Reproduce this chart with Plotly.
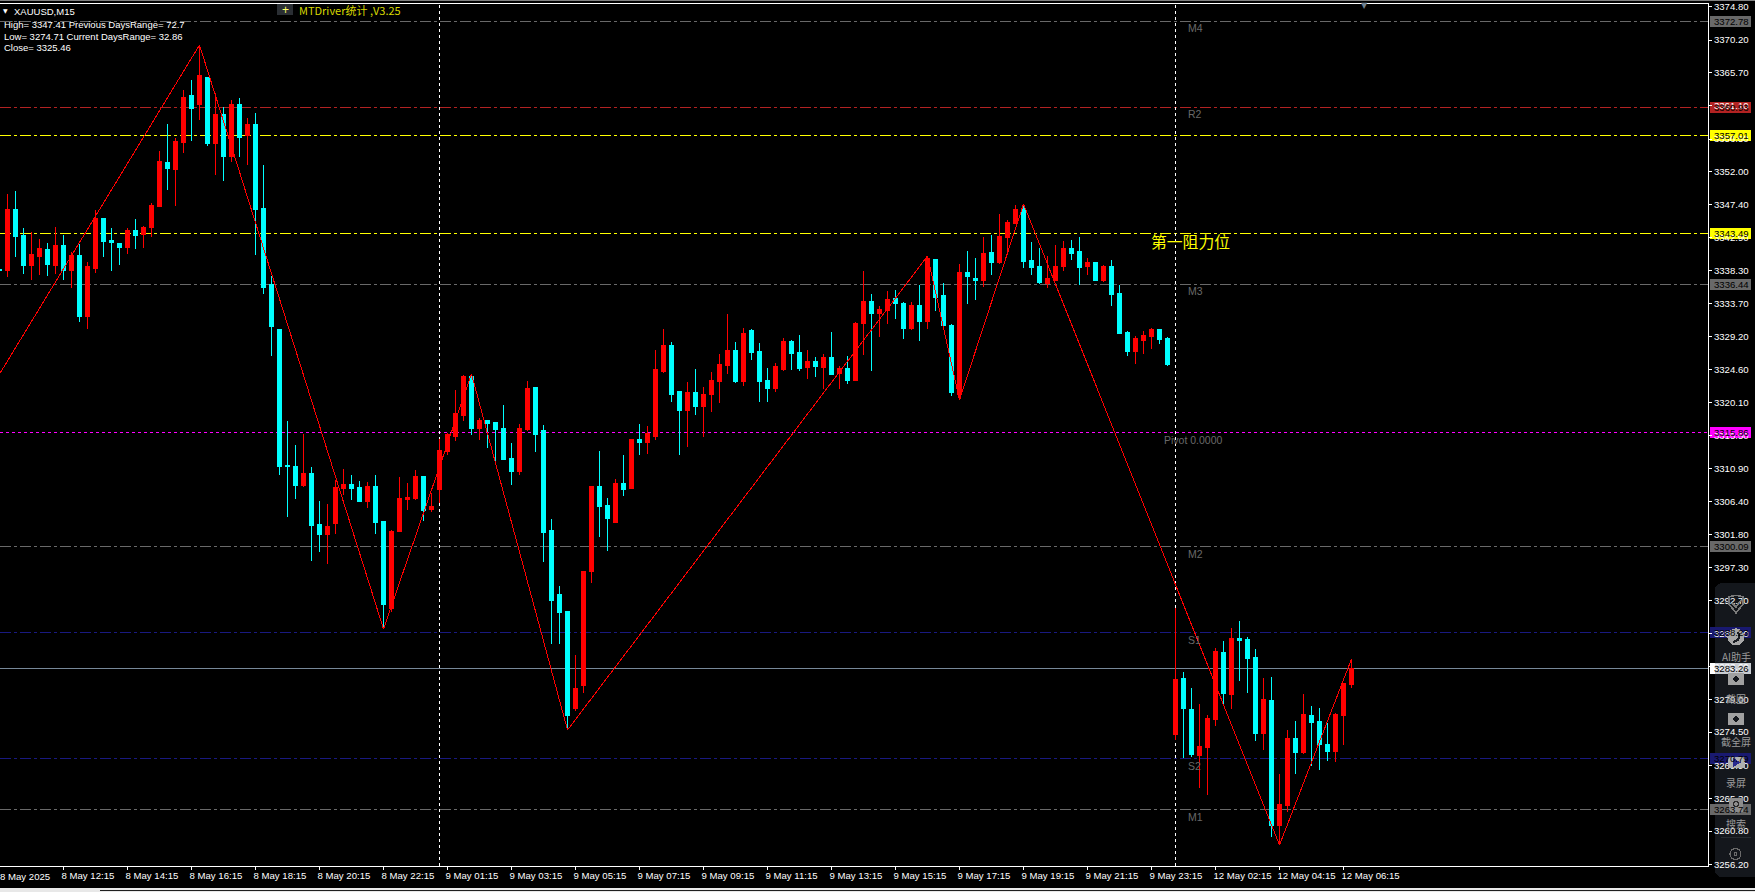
import plotly.graph_objects as go

# ---------- data ----------
opens = [3338.53,
 3338.30,3346.82,3343.23,3338.99,3340.23,3341.29,3339.08,3341.85,3338.39,3340.46,
 3331.93,3338.66,3345.58,3342.54,3342.12,3341.57,3343.92,3343.37,3344.34,3347.24,
 3353.32,3352.36,3356.09,3362.59,3361.35,3365.08,3355.95,3359.96,3354.15,3361.35,
 3357.06,3358.58,3346.96,3336.45,3330.23,3311.42,3311.28,3308.65,3310.31,3303.26,
 3301.88,3303.40,3308.24,3308.79,3308.38,3306.44,3308.52,3303.68,3291.65,3302.29,
 3306.72,3306.86,3309.90,3305.34,3307.97,3313.36,3315.30,3318.34,3323.73,3316.54,
 3317.65,3317.37,3316.54,3312.39,3310.59,3316.40,3322.21,3316.13,3302.30,3293.58,
 3291.23,3277.69,3280.91,3296.76,3308.52,3305.89,3303.54,3308.93,3308.11,3315.02,
 3314.47,3315.30,3324.42,3328.02,3321.66,3319.03,3321.52,3319.45,3321.11,3323.04,
 3325.25,3327.33,3323.04,3329.96,3327.19,3323.18,3321.94,3324.70,3328.57,3327.05,
 3324.97,3325.80,3324.97,3326.36,3324.14,3324.84,3323.18,3331.06,3334.10,3332.44,
 3332.86,3334.52,3333.83,3330.37,3333.55,3331.34,3339.91,3334.93,3330.78,3321.24,
 3338.11,3337.28,3337.01,3340.88,3339.50,3342.95,3344.89,3346.96,3339.77,3338.94,
 3336.59,3337.01,3338.94,3341.43,3341.02,3338.81,3339.50,3337.01,3338.81,3335.21,
 3329.82,3327.19,3328.71,3329.13,3330.10,3328.99,3274.22,3281.97,3277.68,3271.32,
 3272.42,3276.29,3285.56,3279.75,3287.50,3287.36,3284.87,3274.36,3278.92,3261.63,
 3264.40,3273.67,3271.73,3276.85,3276.02,3272.84,3271.87,3276.85,3281.14]
highs = [3338.53,
 3348.90,3349.31,3344.15,3343.60,3342.68,3342.08,3344.29,3343.23,3340.92,3341.99,
 3339.54,3346.69,3345.58,3344.15,3342.12,3344.15,3345.44,3344.47,3347.66,3354.85,
 3358.58,3356.65,3363.28,3364.67,3369.51,3365.08,3362.82,3360.98,3361.90,3362.18,
 3359.41,3360.10,3352.91,3337.56,3330.23,3317.51,3314.19,3315.71,3311.14,3306.44,
 3306.03,3309.35,3310.87,3310.04,3309.21,3309.07,3310.04,3303.68,3302.43,3309.76,
 3308.93,3310.73,3309.90,3307.51,3315.02,3315.80,3321.80,3323.87,3324.01,3317.92,
 3317.65,3317.37,3319.72,3314.47,3317.09,3323.04,3322.21,3316.96,3303.96,3294.69,
 3291.23,3285.16,3296.76,3308.52,3313.36,3306.86,3309.49,3312.81,3315.02,3317.09,
 3316.82,3327.33,3330.23,3328.44,3321.66,3322.90,3324.70,3322.21,3324.29,3326.77,
 3332.31,3328.44,3330.37,3330.23,3328.30,3324.84,3325.53,3328.99,3328.71,3329.40,
 3327.33,3326.36,3326.77,3329.82,3325.11,3326.50,3331.20,3338.25,3335.07,3333.41,
 3335.49,3335.62,3333.96,3333.96,3336.32,3340.33,3339.91,3336.59,3330.92,3339.22,
 3341.02,3340.05,3342.95,3343.23,3346.13,3345.30,3347.38,3347.52,3342.26,3341.43,
 3340.33,3341.85,3342.40,3342.54,3342.95,3340.05,3339.50,3339.09,3339.78,3336.32,
 3329.96,3329.27,3329.96,3330.37,3330.23,3329.13,3291.65,3282.80,3280.58,3278.37,
 3276.85,3286.11,3287.08,3288.88,3289.85,3287.64,3285.98,3281.97,3282.10,3268.69,
 3274.77,3276.02,3279.75,3278.09,3277.82,3275.74,3277.12,3281.27,3284.59]
lows = [3338.30,
 3337.47,3340.23,3337.84,3337.01,3337.70,3337.56,3337.84,3337.01,3335.95,3331.24,
 3330.23,3337.93,3340.23,3338.25,3339.08,3340.60,3341.29,3341.43,3342.95,3347.24,
 3349.45,3347.24,3354.57,3356.23,3359.13,3355.54,3351.53,3350.70,3353.32,3354.02,
 3352.91,3340.46,3335.07,3326.54,3310.04,3304.23,3306.72,3308.38,3298.14,3299.39,
 3297.73,3301.88,3307.27,3306.58,3306.44,3305.47,3301.88,3288.74,3291.10,3302.29,
 3305.20,3306.58,3303.68,3304.92,3306.22,3312.81,3314.74,3317.51,3315.57,3314.88,
 3313.77,3311.98,3312.25,3308.66,3310.04,3316.13,3313.22,3298.01,3286.67,3286.67,
 3274.78,3277.46,3279.95,3295.10,3301.47,3299.53,3303.54,3307.14,3308.11,3312.81,
 3312.95,3314.88,3324.15,3320.14,3312.81,3313.91,3318.34,3315.30,3318.75,3320.00,
 3324.01,3322.77,3322.35,3325.95,3320.14,3320.14,3321.52,3324.42,3324.56,3324.42,
 3323.32,3323.59,3321.93,3324.01,3321.93,3322.62,3323.18,3326.63,3324.42,3329.12,
 3330.92,3331.61,3328.85,3330.09,3328.57,3330.23,3332.72,3330.65,3320.97,3320.41,
 3333.69,3334.24,3336.04,3337.70,3339.22,3340.46,3344.89,3338.67,3337.70,3336.45,
 3335.90,3337.01,3338.25,3339.77,3336.32,3337.70,3337.01,3336.73,3333.42,3329.54,
 3326.50,3325.39,3326.78,3327.47,3328.16,3325.12,3273.39,3270.90,3271.04,3266.75,
 3265.78,3275.33,3278.23,3277.68,3281.55,3279.89,3273.25,3272.01,3259.98,3258.87,
 3263.43,3268.69,3271.45,3269.79,3269.24,3270.49,3270.35,3272.70,3280.58]
closes = [3338.30,
 3346.82,3343.00,3338.99,3340.60,3341.43,3339.22,3341.85,3338.39,3340.46,3331.93,
 3338.85,3345.58,3342.40,3342.26,3341.57,3343.92,3343.23,3344.34,3347.38,3353.46,
 3352.49,3356.23,3362.31,3360.79,3365.36,3355.95,3359.96,3354.15,3361.35,3356.65,
 3358.58,3346.82,3336.04,3330.55,3311.28,3311.28,3308.65,3310.31,3303.12,3301.88,
 3302.98,3308.38,3308.79,3308.24,3306.44,3308.52,3303.54,3292.20,3302.29,3306.86,
 3307.00,3309.90,3305.20,3305.75,3313.50,3315.71,3318.48,3323.73,3316.54,3317.65,
 3317.23,3316.40,3312.25,3310.59,3316.54,3322.07,3315.71,3302.16,3292.62,3291.09,
 3276.72,3280.45,3296.63,3308.52,3305.75,3303.96,3308.80,3307.97,3315.02,3314.47,
 3315.80,3324.70,3328.02,3321.11,3319.03,3321.52,3319.45,3321.11,3323.18,3325.39,
 3327.33,3323.04,3329.68,3327.05,3323.04,3321.94,3324.98,3328.57,3326.91,3324.84,
 3325.80,3325.11,3326.36,3324.01,3324.84,3323.18,3331.06,3334.10,3332.44,3332.98,
 3334.38,3333.83,3330.37,3333.55,3331.34,3340.05,3334.66,3330.65,3321.52,3338.11,
 3337.56,3337.01,3340.74,3339.50,3343.09,3345.03,3346.83,3339.63,3338.80,3336.73,
 3337.15,3338.94,3341.43,3340.74,3338.80,3339.50,3337.01,3338.81,3335.07,3329.68,
 3327.19,3328.99,3329.40,3330.10,3328.85,3325.39,3281.83,3277.82,3271.45,3272.56,
 3276.43,3285.70,3279.89,3287.50,3287.22,3284.73,3274.36,3279.06,3261.63,3264.54,
 3273.67,3271.73,3276.99,3275.88,3272.84,3271.87,3276.99,3281.27,3283.26]
bar_index = list(range(-1, len(opens) - 1))

zigzag_bars = [-1, 24, 47, 58, 70, 115, 119, 127, 159, 168]
zigzag_prices = [3324.00, 3369.51, 3288.74, 3324.01, 3274.78, 3340.33, 3320.41, 3347.52, 3258.87, 3284.59]

separator_bars = [54, 146]

price_ticks = [3374.80,3370.20,3365.70,3361.10,3356.50,3352.00,3347.40,3342.90,3338.30,
               3333.70,3329.20,3324.60,3320.10,3315.50,3310.90,3306.40,3301.80,3297.30,
               3292.70,3288.10,3283.60,3279.00,3274.50,3269.90,3265.30,3260.80,3256.20]

first_time_label = "8 May 2025"
time_tick_bars = [7,15,23,31,39,47,55,63,71,79,87,95,103,111,119,127,135,143,151,159,167]
time_tick_labels = ["8 May 12:15","8 May 14:15","8 May 16:15","8 May 18:15",
                    "8 May 20:15","8 May 22:15","9 May 01:15","9 May 03:15","9 May 05:15",
                    "9 May 07:15","9 May 09:15","9 May 11:15","9 May 13:15","9 May 15:15",
                    "9 May 17:15","9 May 19:15","9 May 21:15","9 May 23:15","12 May 02:15",
                    "12 May 04:15","12 May 06:15"]

level_prices = [3372.78,3360.93,3357.01,3343.49,3336.44,3315.86,3300.09,3288.23,3283.26,3270.79,3263.74]
level_colors = ["#696969","#B22222","#FFFF00","#FFFF00","#696969","#FF00FF","#696969",
                "#191980","#778899","#191980","#696969"]
level_dashes = ["dd","dd","dd","dd","dd","dash","dd","dd","solid","dd","dd"]
label_fills = ["#696969","#B22222","#FFFF00","#FFFF00","#696969","#FF00FF","#696969",
               "#191970","#C8CCD2","#191970","#696969"]

pivot_names = ["M4","R2","M3","Pivot 0.0000","M2","S1","S2","M1"]
pivot_prices = [3372.78,3360.93,3336.44,3315.86,3300.09,3288.23,3270.79,3263.74]

header_lines = ["High= 3347.41 Previous DaysRange= 72.7",
                "Low= 3274.71 Current DaysRange= 32.86",
                "Close= 3325.46"]
panel_labels = ["AI助手","截图","截全屏","录屏","搜索"]

# ---------- page geometry ----------
W, H = 1755, 892
L, R, T, B = 0, 1708, 4, 866
def X(px): return (px - L) / (R - L)
def Y(py): return (B - py) / (B - T)

MONO = "Liberation Sans"
shapes, notes = [], []

def box(x0, y0, x1, y1, fill, layer="below", line=None):
    shapes.append(dict(type="rect", xref="paper", yref="paper", x0=X(x0), x1=X(x1), y0=Y(y0), y1=Y(y1),
                       fillcolor=fill, line=line or dict(width=0), layer=layer))

def text(px, py, s, color="#FFFFFF", size=10, anchor="left", family=MONO):
    notes.append(dict(xref="paper", yref="paper", x=X(px), y=Y(py), text=s, showarrow=False,
                      xanchor=anchor, yanchor="middle", font=dict(family=family, size=size, color=color)))

# chrome strips
box(0, 0, W, 1, "#808080")
box(0, 888, W, 892, "#E8E8E8")
box(100, 890, W, 891, "#202020")

# right-hand floating panel
px0, px1, py0, py1 = 1715, 1755, 583, 877
shapes.append(dict(type="path", xref="paper", yref="paper", layer="below", line=dict(width=0), fillcolor="#14171C",
    path=f"M {X(px0+8)},{Y(py0)} L {X(px1)},{Y(py0)} L {X(px1)},{Y(py1)} L {X(px0+8)},{Y(py1)} "
         f"Q {X(px0)},{Y(py1)} {X(px0)},{Y(py1-8)} L {X(px0)},{Y(py0+8)} Q {X(px0)},{Y(py0)} {X(px0+8)},{Y(py0)} Z"))
box(1721, 620.5, 1751, 621.2, "#262B30")
box(1721, 837, 1751, 837.7, "#262B30")

# horizontal price levels
dash_map = {"dd": "11px,3px,3px,3px", "dash": "3px,3px", "solid": "solid"}
for p, c, d in zip(level_prices, level_colors, level_dashes):
    shapes.append(dict(type="line", xref="paper", yref="y", x0=0, x1=1, y0=p, y1=p, layer="below",
                       line=dict(color=c, width=1, dash=dash_map[d])))
# session separators
for b in separator_bars:
    shapes.append(dict(type="line", xref="x", yref="paper", x0=b, x1=b, y0=0, y1=1, layer="below",
                       line=dict(color="#FFFFFF", width=1, dash="3px,3px")))
# price tags on the right
for p, f in zip(level_prices, label_fills):
    shapes.append(dict(type="rect", xref="paper", yref="y", ysizemode="pixel", yanchor=p, y0=-5.5, y1=5.5,
                       x0=X(1710), x1=X(1751), fillcolor=f, line=dict(width=0), layer="below"))
    if f == "#C8CCD2":
        shapes.append(dict(type="rect", xref="paper", yref="y", ysizemode="pixel", yanchor=p, y0=-5.5, y1=5.5,
                           x0=X(1710), x1=X(1715), fillcolor="#FFFFFF", line=dict(width=0), layer="below"))
    notes.append(dict(xref="paper", yref="y", x=X(1731), y=p, text=f"{p:.2f}", showarrow=False,
                      xanchor="center", yanchor="middle", font=dict(family=MONO, size=9.6, color="#000000")))

# panel icons
G = "#9A9A9A"
def circle(cx, cy, r, fill, lc=None):
    shapes.append(dict(type="circle", xref="paper", yref="paper", x0=X(cx-r), x1=X(cx+r), y0=Y(cy-r), y1=Y(cy+r),
                       fillcolor=fill, line=dict(color=lc or fill, width=1.2), layer="above"))
shapes.append(dict(type="path", xref="paper", yref="paper", layer="above", line=dict(color="#7A7A7A", width=1.6),
    path=f"M {X(1729)},{Y(597)} Q {X(1736)},{Y(594)} {X(1743)},{Y(597)} L {X(1743)},{Y(604)} L {X(1736)},{Y(613)} "
         f"L {X(1729)},{Y(604)} Z M {X(1732)},{Y(603)} L {X(1736)},{Y(607)} L {X(1741)},{Y(600)}"))
circle(1736, 637, 8, "#A8A8A8")
shapes.append(dict(type="path", xref="paper", yref="paper", layer="above", line=dict(color="#1B1E24", width=2.2),
    path=f"M {X(1733)},{Y(642)} Q {X(1742)},{Y(640)} {X(1738)},{Y(632)}"))
for cy in (679, 719):
    box(1728, cy-6, 1744, cy+6, "#A0A0A0", layer="above")
    circle(1736, cy, 2, "#14171C")
box(1728, 757, 1745, 768, "#B0B0B0", layer="above")
shapes.append(dict(type="path", xref="paper", yref="paper", layer="above", fillcolor="#2A2A90", line=dict(width=0),
    path=f"M {X(1733)},{Y(758)} L {X(1741)},{Y(762.5)} L {X(1733)},{Y(767)} Z"))
box(1729, 798, 1743, 812, "#8C8C8C", layer="above")
circle(1736, 804, 2.5, "#8C8C8C", "#2A2A2A")
circle(1735.5, 854, 5.5, "rgba(0,0,0,0)", "#6A6A6A")
circle(1735.5, 854, 1.5, "rgba(0,0,0,0)", "#6A6A6A")
for s, py in zip(panel_labels, (656, 698, 741, 782, 823)):
    text(1736, py, s, color=G, size=10, anchor="center", family="Noto Sans CJK SC")

# header texts
notes.append(dict(xref="paper", yref="paper", x=X(5.5), y=Y(10.5), text="▼", showarrow=False,
                  xanchor="center", yanchor="middle", font=dict(family="DejaVu Sans", size=6, color="#FFFFFF")))
text(12, 11.5, "XAUUSD,M15", size=9.5)
for s, py in zip(header_lines, (24, 36, 48)):
    text(2, py, s, size=9.5)
box(277, 4, 293, 15, "#2A2E33", layer="above")
text(285, 9.5, "+", color="#FFFF66", size=12, anchor="center")
text(297, 9.5, "MTDriver统计 ,V3.25", color="#D8D800", size=11, family="Noto Sans CJK SC")
notes.append(dict(xref="paper", yref="paper", x=X(1364), y=Y(6), text="▼", showarrow=False, xanchor="center",
                  yanchor="middle", font=dict(family="DejaVu Sans", size=8, color="#708090")))
text(-2, 876, first_time_label, size=9.6)

# pivot names
for s, p in zip(pivot_names, pivot_prices):
    notes.append(dict(xref="x", yref="y", x=144.3 if s == "Pivot 0.0000" else 147.3, y=p, text=s, showarrow=False,
                      xanchor="left", yanchor="top", yshift=1,
                      font=dict(family=MONO, size=10.5, color="#696969")))
text(1149, 241, "第一阻力位", color="#FFFF00", size=15.8, family="Noto Sans CJK SC")

fig = go.Figure()
fig.add_trace(go.Candlestick(
    x=bar_index, open=opens, high=highs, low=lows, close=closes,
    increasing=dict(line=dict(color="#FF0000", width=1), fillcolor="#FF0000"),
    decreasing=dict(line=dict(color="#00FFFF", width=1), fillcolor="#00FFFF"),
    whiskerwidth=0, showlegend=False, hoverinfo="skip"))
fig.add_trace(go.Scatter(x=zigzag_bars, y=zigzag_prices, mode="lines",
                         line=dict(color="#FF0000", width=1), showlegend=False, hoverinfo="skip"))

fig.update_layout(
    width=W, height=H, margin=dict(l=L, r=W - R, t=T, b=H - B, pad=0, autoexpand=False),
    paper_bgcolor="#000000", plot_bgcolor="#000000", boxgap=0.5, boxgroupgap=0, showlegend=False,
    shapes=shapes, annotations=notes, hovermode=False,
    xaxis=dict(range=[-0.9375, (R - 7.5) / 8], rangeslider=dict(visible=False), showgrid=False, zeroline=False,
               tickmode="array", tickvals=time_tick_bars, ticktext=time_tick_labels,
               ticks="outside", ticklen=3, tickcolor="#FFFFFF", tickwidth=1,
               ticklabelposition="outside right", ticklabelshift=-3, tickangle=0,
               tickfont=dict(family=MONO, size=9.6, color="#FFFFFF"),
               showline=True, linecolor="#FFFFFF", linewidth=1, mirror=True),
    yaxis=dict(side="right", range=[3255.97, 3375.18], showgrid=False, zeroline=False,
               tickmode="array", tickvals=price_ticks, ticktext=[f"{v:.2f}" for v in price_ticks],
               ticks="outside", ticklen=3, tickcolor="#FFFFFF", tickwidth=1,
               tickfont=dict(family=MONO, size=9.6, color="#FFFFFF"),
               showline=True, linecolor="#FFFFFF", linewidth=1),
)
fig.write_html("out.html", config=dict(displayModeBar=False),
               post_script="document.body.style.margin='0';document.body.style.overflow='hidden';"
                           "document.querySelectorAll('.shapelayer path,.boxlayer path,.scatterlayer path.js-line')"
                           ".forEach(function(p){p.style.shapeRendering='crispEdges';});")
